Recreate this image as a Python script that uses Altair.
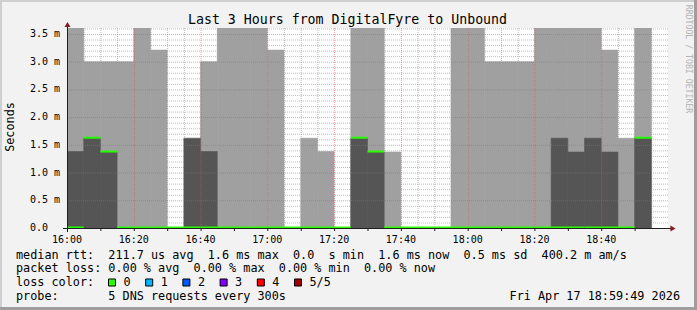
import re
import altair as alt
import pandas as pd

# ---------------- data ----------------
step_start = ["16:00", "16:05", "16:10", "16:15", "16:20", "16:25", "16:30", "16:35",
              "16:40", "16:45", "16:50", "16:55", "17:00", "17:05", "17:10", "17:15",
              "17:20", "17:25", "17:30", "17:35", "17:40", "17:45", "17:50", "17:55",
              "18:00", "18:05", "18:10", "18:15", "18:20", "18:25", "18:30", "18:35",
              "18:40", "18:45", "18:50", "18:55"]
# upper (light) smoke top, ms
smoke_upper = [3.61, 3.00, 3.00, 3.00, 3.61, 3.21, None, None,
               3.00, 3.61, 3.61, 3.61, 3.21, None, 1.62, 1.38,
               None, 3.61, 3.61, 1.37, None, None, None, 3.61,
               3.61, 3.00, 3.00, 3.00, 3.61, 3.61, 3.61, 3.61,
               3.21, 1.62, 3.61, None]
# lower (dark) smoke top, ms
smoke_lower = [1.38, 1.62, 1.37, None, None, None, None, 1.62,
               1.38, None, None, None, None, None, None, None,
               None, 1.62, 1.37, None, None, None, None, None,
               None, None, None, None, None, 1.62, 1.37, 1.62,
               1.37, None, 1.62, None]
# median rtt, ms
median = [0.0, 1.62, 1.37, 0.0, 0.0, 0.0, 0.0, 0.0,
          0.0, 0.0, 0.0, 0.0, 0.0, 0.0, 0.0, 0.0,
          0.0, 1.62, 1.37, 0.0, 0.0, 0.0, 0.0, 0.0,
          0.0, 0.0, 0.0, 0.0, 0.0, 0.0, 0.0, 0.0,
          0.0, 0.0, 1.62, None]

y_tick_values = [0.0, 0.5, 1.0, 1.5, 2.0, 2.5, 3.0, 3.5]
y_tick_labels = ["0.0", "0.5 m", "1.0 m", "1.5 m", "2.0 m", "2.5 m", "3.0 m", "3.5 m"]
x_tick_labels = ["16:00", "16:20", "16:40", "17:00", "17:20", "17:40", "18:00", "18:20", "18:40"]

title_text = "Last 3 Hours from DigitalFyre to Unbound"
y_title = "Seconds"
watermark = "RRDTOOL / TOBI OETIKER"
legend_line1 = "median rtt:  211.7 us avg  1.6 ms max  0.0  s min  1.6 ms now  0.5 ms sd  400.2 m am/s"
legend_line2 = "packet loss: 0.00 % avg  0.00 % max  0.00 % min  0.00 % now"
legend_line3 = "loss color:"
legend_line4 = "probe:       5 DNS requests every 300s"
date_text = "Fri Apr 17 18:59:49 2026"
loss_labels = ["0", "1", "2", "3", "4", "5/5"]
loss_colors = ["#26ff00", "#00b8ff", "#0059ff", "#7e00ff", "#ff0000", "#a00000"]

# ---------------- helpers ----------------
MONO = "DejaVu Sans Mono"
W, H = 601, 200
X0 = 67  # absolute left of plot
Y0 = 28  # absolute top of plot
LIGHT = "#a0a0a0"
DARK = "#555555"


def keep_spaces(s):
    return re.sub(r" {2,}", lambda m: "\u00a0" * len(m.group()), s)


def minutes(s):
    h, m = s.split(":")
    return (int(h) - 16) * 60 + int(m)


df = pd.DataFrame({"start": step_start, "upper": smoke_upper,
                   "lower": smoke_lower, "median": median})
df["t0"] = df["start"].map(minutes)
df["t1"] = df["t0"] + 5
df["base"] = 0.0

xs = alt.Scale(domain=[0, 180], nice=False, zero=False)
ys = alt.Scale(domain=[0, 3.608], nice=False, zero=True)

dummy = pd.DataFrame({"d": [0]})

light = alt.Chart(df.dropna(subset=["upper"])).mark_rect(
    color=LIGHT, stroke=LIGHT, strokeWidth=0.6, clip=True).encode(
    x=alt.X("t0:Q", scale=xs, axis=None), x2="t1:Q",
    y=alt.Y("upper:Q", scale=ys, axis=None), y2="base:Q")

dark = alt.Chart(df.dropna(subset=["lower"])).mark_rect(
    color=DARK, stroke=DARK, strokeWidth=0.6, clip=True).encode(
    x=alt.X("t0:Q", scale=xs, axis=None), x2="t1:Q",
    y=alt.Y("lower:Q", scale=ys, axis=None), y2="base:Q")

# grid
h_minor = pd.DataFrame({"v": [round(0.1 * k, 1) for k in range(1, 37) if k % 5 != 0]})
h_major = pd.DataFrame({"v": [0.5 * k for k in range(1, 8)]})
v_minor = pd.DataFrame({"m": [5 * k for k in range(1, 37) if k % 4 != 0]})
v_major = pd.DataFrame({"m": [20 * k for k in range(1, 9)]})
ticks10 = pd.DataFrame({"m": [10 * k for k in range(0, 18)]})

gminor_h = alt.Chart(h_minor).mark_rule(color="#8f8f8f", opacity=0.6, strokeDash=[1, 1], yOffset=0.5).encode(
    y=alt.Y("v:Q", scale=ys, axis=None))
gmajor_h = alt.Chart(h_major).mark_rule(color="#de5050", opacity=0.55, strokeDash=[1, 1], yOffset=0.5).encode(
    y=alt.Y("v:Q", scale=ys, axis=None))
gminor_v = alt.Chart(v_minor).mark_rule(color="#8f8f8f", opacity=0.6, strokeDash=[1, 1], xOffset=0.5).encode(
    x=alt.X("m:Q", scale=xs, axis=None))
gmajor_v = alt.Chart(v_major).mark_rule(color="#de5050", opacity=0.55, strokeDash=[1, 1], xOffset=0.5).encode(
    x=alt.X("m:Q", scale=xs, axis=None))

med = alt.Chart(df.dropna(subset=["median"])).mark_rule(color="#26ff00", strokeWidth=2, yOffset=-0.5).encode(
    x=alt.X("t0:Q", scale=xs, axis=None), x2="t1:Q",
    y=alt.Y("median:Q", scale=ys, axis=None))

# axes
axis_col = "#1f1f1f"
xaxis = alt.Chart(dummy).mark_rule(color=axis_col, strokeWidth=1).encode(
    x=alt.value(-4), x2=alt.value(604), y=alt.value(200.5))
yaxis = alt.Chart(dummy).mark_rule(color=axis_col, strokeWidth=1).encode(
    x=alt.value(0.5), y=alt.value(-4), y2=alt.value(204))
xticks = alt.Chart(ticks10).mark_rule(color=axis_col, xOffset=0.5).encode(
    x=alt.X("m:Q", scale=xs, axis=None), y=alt.value(200), y2=alt.value(203))
arrow_up = alt.Chart(dummy).mark_point(shape="triangle-up", filled=True, color="#801f1f", size=36, opacity=1).encode(
    x=alt.value(0.5), y=alt.value(-3.5))
arrow_right = alt.Chart(dummy).mark_point(shape="triangle-right", filled=True, color="#801f1f", size=36, opacity=1).encode(
    x=alt.value(606), y=alt.value(200.5))

ylab_df = pd.DataFrame({"v": y_tick_values, "lab": y_tick_labels})
ylabels = alt.Chart(ylab_df).mark_text(font=MONO, fontSize=10, align="left", baseline="middle", color="black").encode(
    x=alt.value(30 - X0), y=alt.Y("v:Q", scale=ys, axis=None), text="lab:N")

xlab_df = pd.DataFrame({"lab": x_tick_labels})
xlab_df["m"] = xlab_df["lab"].map(minutes)
xlabels = alt.Chart(xlab_df).mark_text(font=MONO, fontSize=10, align="center", baseline="alphabetic", color="black").encode(
    x=alt.X("m:Q", scale=xs, axis=None), y=alt.value(243 - Y0), text="lab:N")


def txt(text, x, y, size=11.8, align="left", baseline="alphabetic", color="black", angle=0):
    return alt.Chart(dummy).mark_text(text=keep_spaces(text), font=MONO, fontSize=size, align=align,
                                      baseline=baseline, color=color, angle=angle).encode(
        x=alt.value(x), y=alt.value(y))


title = txt(title_text, 347.5 - X0, 24 - Y0, size=13.25, align="center")
ytitle = txt(y_title, 9.5 - X0, 127 - Y0, size=11.8, align="center", baseline="middle", angle=270)
wmark = txt(watermark, 688 - X0, 59 - Y0, size=8.2, align="center", baseline="middle", color="#b4b4b4", angle=90)
l1 = txt(legend_line1, 16 - X0, 259 - Y0)
l2 = txt(legend_line2, 16 - X0, 272 - Y0)
l3 = txt(legend_line3, 16 - X0, 286 - Y0)
l4 = txt(legend_line4, 16 - X0, 300 - Y0)
date = txt(date_text, 680 - X0, 300 - Y0, align="right")

sw_df = pd.DataFrame({"lab": loss_labels, "col": loss_colors})
sw_df["px"] = [112 - X0 + 37.2 * k for k in range(len(loss_labels))]
sw_df["lx"] = sw_df["px"] + 11.5
swatch = alt.Chart(sw_df).mark_square(size=49, opacity=1, stroke="black", strokeWidth=1).encode(
    x=alt.X("px:Q", scale=None), y=alt.value(282.5 - Y0),
    fill=alt.Fill("col:N", scale=None))
swlab = alt.Chart(sw_df).mark_text(font=MONO, fontSize=11.8, align="left", baseline="alphabetic", color="black").encode(
    x=alt.X("lx:Q", scale=None), y=alt.value(286 - Y0), text="lab:N")

# frame (rrdtool shade)
shadeA = "#cfcfcf"
shadeB = "#9e9e9e"
b_top = alt.Chart(dummy).mark_rect(color=shadeA).encode(
    x=alt.value(-X0), x2=alt.value(697 - X0), y=alt.value(-Y0), y2=alt.value(2 - Y0))
b_left = alt.Chart(dummy).mark_rect(color=shadeA).encode(
    x=alt.value(-X0), x2=alt.value(2 - X0), y=alt.value(-Y0), y2=alt.value(310 - Y0))
b_bottom = alt.Chart(dummy).mark_rect(color=shadeB).encode(
    x=alt.value(-X0), x2=alt.value(697 - X0), y=alt.value(307 - Y0), y2=alt.value(310 - Y0))
b_right = alt.Chart(dummy).mark_rect(color=shadeB).encode(
    x=alt.value(694 - X0), x2=alt.value(697 - X0), y=alt.value(-Y0), y2=alt.value(310 - Y0))

chart = alt.layer(
    gminor_h, gminor_v, light, dark, gmajor_h, gmajor_v, med,
    xaxis, yaxis, xticks, arrow_up, arrow_right, ylabels, xlabels,
    title, ytitle, wmark, l1, l2, l3, l4, date, swatch, swlab,
    b_top, b_left, b_bottom, b_right
).properties(
    width=W, height=H,
    padding={"left": X0, "top": Y0, "right": 697 - X0 - W, "bottom": 310 - Y0 - H},
    autosize=alt.AutoSizeParams(type="none"),
    background="#f2f2f2"
).configure_view(fill="white", strokeWidth=0)

chart.save("out.html", embed_options={"renderer": "svg", "actions": False})
